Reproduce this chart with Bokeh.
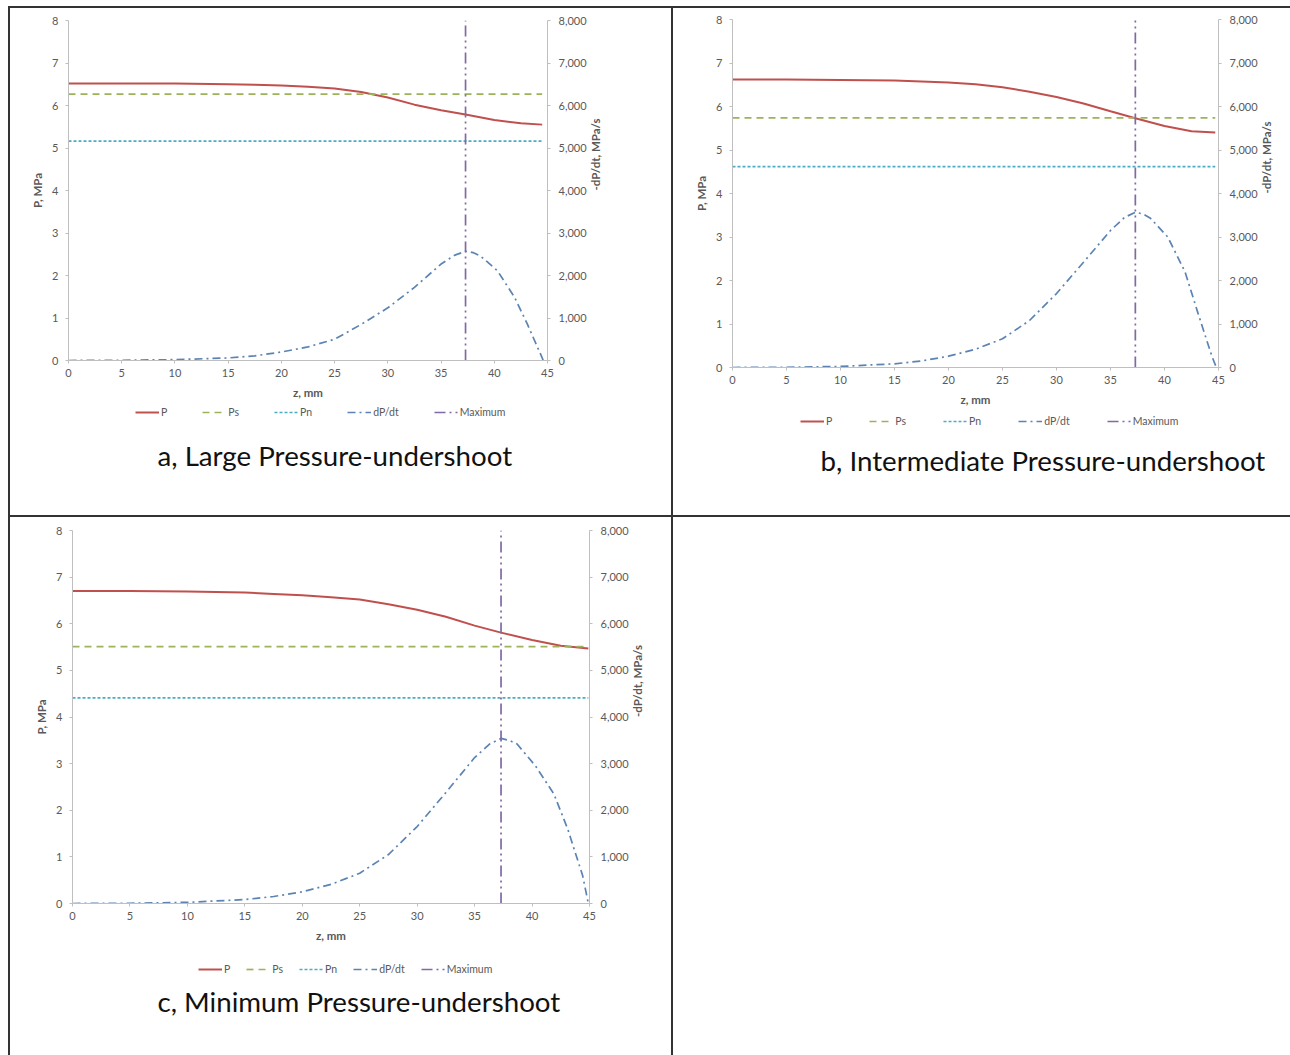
import math

from bokeh.plotting import figure
from bokeh.models import (Range1d, LinearAxis, FixedTicker, NumeralTickFormatter,
                          Legend, LegendItem, Title, Spacer)
from bokeh.layouts import row, column
from bokeh.embed import file_html
from bokeh.resources import INLINE

# ---------------- data (z in mm, P in MPa, -dP/dt in MPa/s) ----------------
z_p_a = [0, 5, 10, 15, 17.5, 20, 22.5, 25, 27.5, 30, 32.5, 35, 37.3, 40, 42.5, 44.5]
p_a = [6.52, 6.52, 6.515, 6.50, 6.49, 6.47, 6.44, 6.40, 6.32, 6.19, 6.02, 5.89, 5.79, 5.66, 5.58, 5.55]
z_rate_a = [0, 5, 10, 15, 17.5, 20, 22.5, 25, 27.5, 30, 32.5, 35, 36.3, 37.3, 38, 38.7, 40.3, 41.9, 43.1, 44.4, 44.6]
rate_a = [0, 5, 20, 60, 110, 200, 320, 500, 850, 1240, 1720, 2270, 2480, 2570, 2540, 2460, 2110, 1490, 860, 120, 0]
ps_a = 6.27
pn_a = 5.16
zmax_a = 37.3

z_p_b = [0, 5, 10, 15, 17.5, 20, 22.5, 25, 27.5, 30, 32.5, 35, 37.3, 40, 42.5, 44.7]
p_b = [6.62, 6.62, 6.61, 6.60, 6.575, 6.55, 6.51, 6.44, 6.34, 6.22, 6.07, 5.89, 5.73, 5.55, 5.43, 5.40]
z_rate_b = [0, 5, 10, 15, 17.5, 20, 22.5, 25, 27.5, 30, 32.5, 35, 36.3, 37.3, 38, 38.7, 40.3, 41.9, 43.1, 44.4, 44.8]
rate_b = [0, 5, 25, 85, 150, 260, 420, 660, 1080, 1700, 2420, 3150, 3450, 3570, 3530, 3430, 3000, 2200, 1250, 250, 0]
ps_b = 5.74
pn_b = 4.62
zmax_b = 37.3

z_p_c = [0, 5, 10, 15, 17.5, 20, 22.5, 25, 27.5, 30, 32.5, 35, 37.3, 40, 42.5, 44.9]
p_c = [6.70, 6.70, 6.69, 6.67, 6.64, 6.61, 6.57, 6.52, 6.42, 6.30, 6.15, 5.96, 5.81, 5.65, 5.53, 5.47]
z_rate_c = [0, 5, 10, 15, 17.5, 20, 22.5, 25, 27.5, 30, 32.5, 35, 36.3, 37.3, 38, 38.7, 40.3, 41.9, 43.1, 44.4, 44.9]
rate_c = [0, 5, 25, 85, 150, 250, 410, 650, 1050, 1650, 2380, 3130, 3420, 3540, 3500, 3420, 2950, 2350, 1600, 600, 0]
ps_c = 5.51
pn_c = 4.41
zmax_c = 37.3

x_ticks = [0, 5, 10, 15, 20, 25, 30, 35, 40, 45]
p_ticks = [0, 1, 2, 3, 4, 5, 6, 7, 8]
rate_ticks = [0, 1000, 2000, 3000, 4000, 5000, 6000, 7000, 8000]
legend_labels = ["P", "Ps", "Pn", "dP/dt", "Maximum"]

# ---------------- styling ----------------
FONT = "Lato"
TXT = "#595959"
AX = "#bfbfbf"
AXIS_BAND = 42          # room under each plot frame for the z axis
KEY_H = 14              # legend glyph / row height
SERIES = [  # colour, width, dash for P, Ps, Pn, dP/dt, Maximum
    ("#c0504d", 2.0, "solid"),
    ("#9db35a", 1.7, "7 5"),
    ("#4bacc6", 1.7, "3 2"),
    ("#5b84b4", 1.7, "8 4 2 4"),
    ("#7f6aa3", 1.7, "11 4 2 4 2 4"),
]


def style_axis(ax, label):
    ax.axis_label = label
    ax.axis_label_text_font = FONT
    ax.axis_label_text_font_style = "bold"
    ax.axis_label_text_font_size = "11.5px"
    ax.axis_label_text_color = TXT
    ax.major_label_text_font = FONT
    ax.major_label_text_font_size = "11px"
    ax.major_label_text_color = TXT
    ax.axis_line_color = AX
    ax.major_tick_line_color = AX
    ax.major_tick_out = 3
    ax.major_tick_in = 0
    ax.minor_tick_line_color = None


def chart(frame, borders, z_p, p, z_rate, rate, ps, pn, zmax):
    fw, fh = frame
    left, right, top = borders
    f = figure(frame_width=fw, frame_height=fh, output_backend="svg", toolbar_location=None,
               x_range=Range1d(0, 45), y_range=Range1d(0, 8),
               min_border_left=left, min_border_right=right,
               min_border_top=top, min_border_bottom=AXIS_BAND,
               x_axis_location=None, y_axis_location=None)
    f.extra_y_ranges = {"rate": Range1d(0, 8000)}
    f.grid.visible = False
    f.outline_line_color = None

    xa = LinearAxis(ticker=FixedTicker(ticks=x_ticks))
    style_axis(xa, "z, mm")
    xa.major_label_standoff = 5
    xa.axis_label_standoff = 6
    f.add_layout(xa, "below")

    ya = LinearAxis(ticker=FixedTicker(ticks=p_ticks))
    style_axis(ya, "P, MPa")
    ya.major_label_standoff = 7
    ya.axis_label_standoff = 5
    f.add_layout(ya, "left")

    ra = LinearAxis(y_range_name="rate", ticker=FixedTicker(ticks=rate_ticks),
                    formatter=NumeralTickFormatter(format="0,0"))
    style_axis(ra, "-dP/dt, MPa/s")
    ra.major_label_standoff = 8
    ra.axis_label_standoff = 6
    if "axis_label_orientation" in ra.properties():
        # read the right-hand title upwards, like the left one
        ra.axis_label_orientation = math.pi / 2
    f.add_layout(ra, "right")

    (cp, wp, dp), (cs, ws, ds), (cn, wn, dn), (cr, wr, dr), (cm, wm, dm) = SERIES
    f.line(z_p, p, line_color=cp, line_width=wp, line_dash=dp)
    f.line(z_p, [ps] * len(z_p), line_color=cs, line_width=ws, line_dash=ds)
    f.line(z_p, [pn] * len(z_p), line_color=cn, line_width=wn, line_dash=dn)
    f.line(z_rate, rate, y_range_name="rate", line_color=cr, line_width=wr, line_dash=dr)
    f.line([zmax, zmax], [p_ticks[0], p_ticks[-1]], line_color=cm, line_width=wm,
           line_dash=dm)
    return f


def key_strip(frame_w, borders, band_h, bottom_h, legend_left, legend_top,
              legend_spacing, caption, caption_offset, caption_standoff):
    """Legend row (in a thin frame under the chart) with the caption beneath it."""
    left, right, _ = borders
    s = figure(frame_width=frame_w, frame_height=band_h, output_backend="svg",
               toolbar_location=None,
               x_range=Range1d(0, frame_w), y_range=Range1d(0, band_h),
               min_border_left=left, min_border_right=right,
               min_border_top=0, min_border_bottom=bottom_h,
               x_axis_location=None, y_axis_location=None)
    s.grid.visible = False
    s.outline_line_color = None
    # legend-only renderers: one undrawn point each, styled like the chart series
    keys = [s.line([math.nan], [math.nan], line_color=c, line_width=w, line_dash=d)
            for c, w, d in SERIES]
    items = [LegendItem(label=lab, renderers=[r]) for lab, r in zip(legend_labels, keys)]
    leg = Legend(items=items, orientation="horizontal",
                 location=(legend_left, band_h - legend_top - KEY_H),
                 spacing=legend_spacing, glyph_width=24, glyph_height=KEY_H,
                 label_height=KEY_H, label_width=0, label_standoff=2,
                 padding=0, margin=0,
                 label_text_font=FONT, label_text_font_size="10.5px",
                 label_text_color=TXT, border_line_color=None,
                 background_fill_alpha=0)
    s.add_layout(leg)
    s.add_layout(Title(text=caption, align="left", offset=caption_offset,
                       standoff=caption_standoff, text_font=FONT,
                       text_font_size="27.7px", text_font_style="normal",
                       text_color="#111111"), "below")
    return s


def cell(height, frame, borders, series, band_h, legend_left, legend_mid,
         legend_spacing, caption, caption_offset, caption_standoff):
    top_h = borders[2] + frame[1] + AXIS_BAND
    c = chart(frame, borders, *series)
    k = key_strip(frame[0], borders, band_h, height - top_h - band_h,
                  legend_left, legend_mid - KEY_H / 2, legend_spacing,
                  caption, caption_offset, caption_standoff)
    return column(c, k)


cell_a = cell(507, (479, 340), (58, 124, 12),
              (z_p_a, p_a, z_rate_a, rate_a, ps_a, pn_a, zmax_a),
              22, 67, 10, 35, "a, Large Pressure-undershoot", 89, 24)
cell_b = cell(507, (486, 348), (59, 72, 11),
              (z_p_b, p_b, z_rate_b, rate_b, ps_b, pn_b, zmax_b),
              24, 68, 12, 37, "b, Intermediate Pressure-undershoot", 88, 16)
cell_c = cell(538, (517, 373), (62, 82, 13),
              (z_p_c, p_c, z_rate_c, rate_c, ps_c, pn_c, zmax_c),
              36, 126, 24, 16, "c, Minimum Pressure-undershoot", 85, 2)


def rule(w, h):
    return Spacer(width=w, height=h, styles={"background-color": "#333333"})


page = column(
    Spacer(width=1290, height=6),
    row(Spacer(width=8, height=2), rule(1282, 2)),
    row(Spacer(width=8, height=507), rule(2, 507), cell_a, rule(2, 507), cell_b),
    row(Spacer(width=8, height=2), rule(1282, 2)),
    row(Spacer(width=8, height=538), rule(2, 538), cell_c, rule(2, 538),
        Spacer(width=617, height=538)),
)

open("out.html", "w").write(file_html(page, INLINE))
